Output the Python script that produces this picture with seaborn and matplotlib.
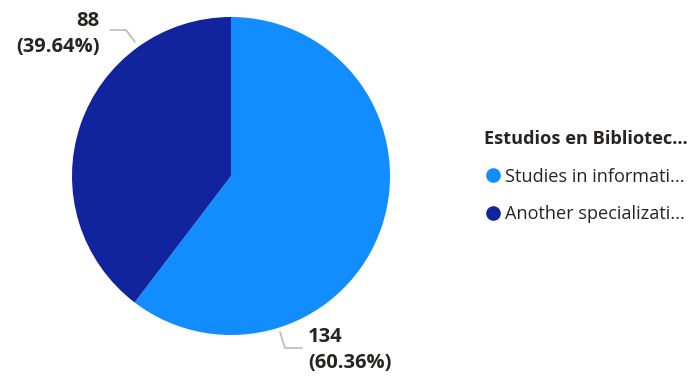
import matplotlib
matplotlib.use("Agg")
import matplotlib.pyplot as plt
from matplotlib.lines import Line2D
import seaborn as sns

categories = ["Studies in informati...", "Another specializati..."]
values = [134, 88]
colors = ["#118DFF", "#12239E"]
legend_title = "Estudios en Bibliotec..."

sns.set_theme(style="white")
plt.rcParams["font.family"] = ["Open Sans", "DejaVu Sans"]

W, H = 696, 381
fig = plt.figure(figsize=(W / 100, H / 100), dpi=100)
cx, cy, r = 231, 176, 159
ax = fig.add_axes([(cx - r) / W, (H - cy - r) / H, 2 * r / W, 2 * r / H])
wedges, _ = ax.pie(values, colors=colors, startangle=90, counterclock=False,
                   radius=1, wedgeprops=dict(linewidth=0))
ax.set_xlim(-1, 1)
ax.set_ylim(-1, 1)
ax.set_aspect("equal")
ax.axis("off")

total = sum(values)
labels = [f"{v}\n({v / total * 100:.2f}%)" for v in values]

# label for first slice (bottom right)
ax.plot([0.308, 0.34, 0.447], [-0.981, -1.082, -1.082], color="#BBBBBB", lw=1.2,
        clip_on=False, solid_joinstyle="miter")
ax.text(0.484, -1.094, labels[0], ha="left", va="center", fontsize=14.5,
        fontweight="bold", color="#252423", linespacing=1.4, clip_on=False)

# label for second slice (top left)
ax.plot([-0.604, -0.66, -0.76], [0.843, 0.918, 0.918], color="#BBBBBB", lw=1.2,
        clip_on=False, solid_joinstyle="miter")
ax.text(-0.824, 0.893, labels[1], ha="right", va="center", fontsize=14.5,
        fontweight="bold", color="#252423", linespacing=1.4, multialignment="right",
        clip_on=False)

handles = [Line2D([0], [0], marker="o", linestyle="", markersize=9.5,
                  markerfacecolor=c, markeredgecolor=c) for c in colors]
leg = fig.legend(handles, categories, title=legend_title, loc="upper left",
                 bbox_to_anchor=(484 / W, 1 - 130 / H), frameon=False,
                 fontsize=13.1, title_fontproperties={"weight": "bold", "size": 13.1},
                 handletextpad=0.15, handlelength=1.0, labelspacing=1.08,
                 alignment="left", borderaxespad=0, borderpad=0)
for t in leg.get_texts():
    t.set_color("#252423")
leg.get_title().set_color("#252423")

fig.savefig("out.png", dpi=100, facecolor="white")
